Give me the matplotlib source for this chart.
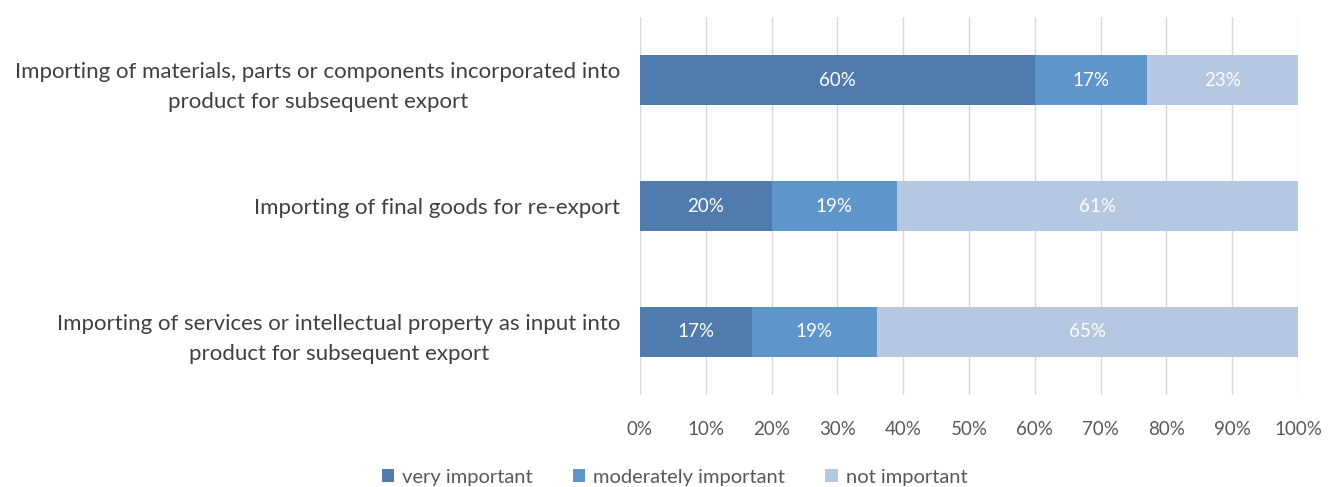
import matplotlib.pyplot as plt
import numpy as np

categories = [
    "Importing of materials, parts or components incorporated into\nproduct for subsequent export",
    "Importing of final goods for re-export",
    "Importing of services or intellectual property as input into\nproduct for subsequent export",
]
very_important = [60, 20, 17]
moderately_important = [17, 19, 19]
not_important = [23, 61, 65]

series = [
    ("very important", very_important, "#4f7cad"),
    ("moderately important", moderately_important, "#5e95ca"),
    ("not important", not_important, "#b5c7e1"),
]

plt.rcParams['font.family'] = ['Lato', 'DejaVu Sans']

fig = plt.figure(figsize=(13.36, 4.87), dpi=100)
ax = fig.add_axes([0.479, 0.189, 0.4925, 0.776])

y = np.arange(len(categories))
left = np.zeros(len(categories))
for name, vals, col in series:
    vals = np.array(vals, dtype=float)
    ax.barh(y, vals, left=left, height=0.4, color=col, label=name, zorder=3)
    for yi, (l, v) in enumerate(zip(left, vals)):
        ax.text(l + min(v, 100 - l) / 2, yi, f"{v:.0f}%", ha='center', va='center',
                color='white', fontsize=13.5, zorder=4)
    left += vals

ax.set_xlim(0, 100)
ax.set_ylim(len(categories) - 0.5, -0.5)
ax.set_yticks(y)
ax.set_yticklabels(categories, fontsize=16, color='#404040', ha='right',
                   multialignment='center', linespacing=1.6)
ax.set_xticks(np.arange(0, 101, 10))
ax.set_xticklabels([f"{t}%" for t in range(0, 101, 10)], fontsize=13.5, color='#595959')
ax.tick_params(axis='both', length=0)
ax.tick_params(axis='y', pad=14)
ax.tick_params(axis='x', pad=19)
ax.grid(axis='x', color='#d9d9d9', linewidth=1, zorder=0)
for s in ax.spines.values():
    s.set_visible(False)

fig.legend(loc='lower center', bbox_to_anchor=(0.505, -0.035), ncol=3, frameon=False,
           fontsize=14.5, handlelength=0.6, handleheight=0.6, handletextpad=0.4,
           columnspacing=2.0, labelcolor='#595959')

fig.savefig('out.png', dpi=100)
